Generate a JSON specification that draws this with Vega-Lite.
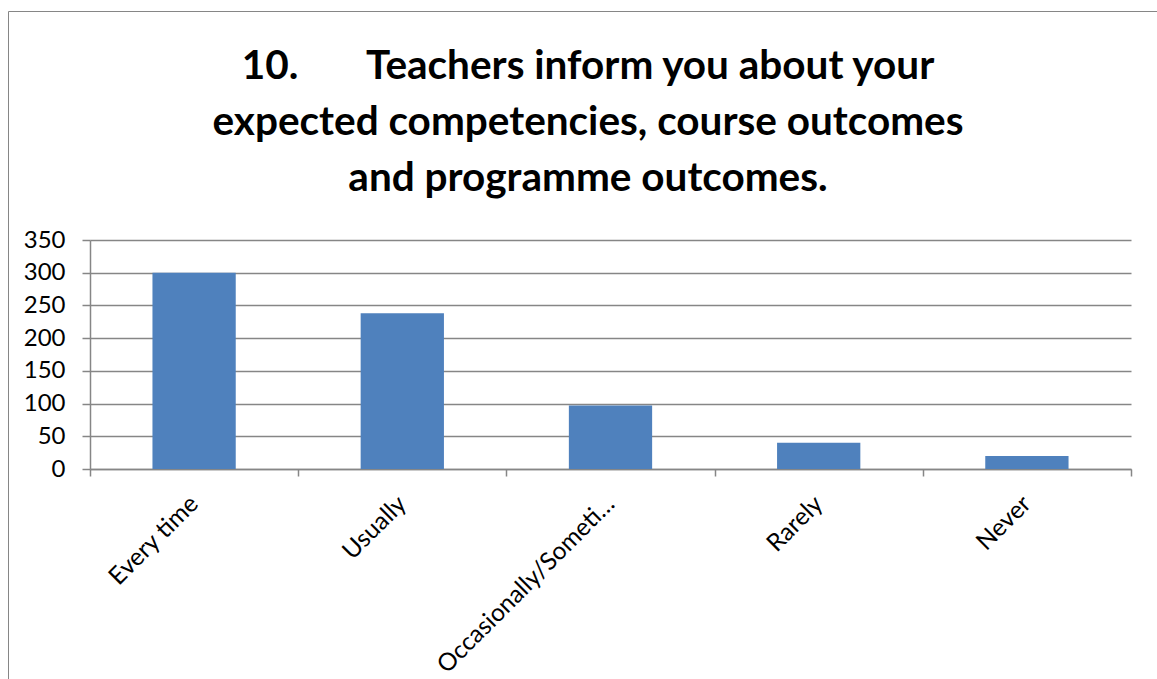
{
  "$schema": "https://vega.github.io/schema/vega-lite/v6.json",
  "autosize": "none",
  "padding": {"left": 8, "top": 11, "right": 0, "bottom": 0},
  "width": 1160,
  "height": 680,
  "background": "white",
  "title": {
    "text": ["10.\u00a0\u00a0\u00a0\u00a0\u00a0\u00a0\u00a0Teachers inform you about your", "expected competencies, course outcomes", "and programme outcomes."],
    "anchor": "middle",
    "frame": "group",
    "font": "Lato",
    "fontWeight": "bold",
    "fontSize": 40.5,
    "lineHeight": 56,
    "baseline": "top",
    "color": "black",
    "offset": 0,
    "dy": 188
  },
  "data": {
    "values": [
      {"response": "Every time", "count": 300},
      {"response": "Usually", "count": 238},
      {"response": "Occasionally/Sometimes", "count": 97},
      {"response": "Rarely", "count": 40},
      {"response": "Never", "count": 20}
    ]
  },
  "mark": {"type": "bar", "color": "#4F81BD", "width": {"band": 0.4}},
  "encoding": {
    "x": {
      "field": "response",
      "type": "nominal",
      "sort": null,
      "scale": {"range": [82, 1123], "paddingInner": 0, "paddingOuter": 0},
      "axis": {
        "title": null,
        "orient": "bottom",
        "offset": -222,
        "tickBand": "extent",
        "tickSize": 7,
        "tickColor": "#868686",
        "domainColor": "#868686",
        "domainWidth": 1.5,
        "tickWidth": 1.5,
        "labelAngle": -45,
        "labelAlign": "right",
        "labelBaseline": "middle",
        "labelPadding": 24,
        "labelFont": "Lato",
        "labelFontSize": 24.5,
        "labelColor": "black",
        "labelLimit": 252,
        "labelOverlap": false,
        "grid": false
      }
    },
    "y": {
      "field": "count",
      "type": "quantitative",
      "scale": {"domain": [0, 350], "range": [458, 229], "nice": false},
      "axis": {
        "title": null,
        "offset": -82,
        "values": [0, 50, 100, 150, 200, 250, 300, 350],
        "tickSize": 8,
        "tickColor": "#868686",
        "tickWidth": 1.5,
        "domainColor": "#868686",
        "domainWidth": 1.5,
        "gridColor": "#868686",
        "gridWidth": 1.5,
        "grid": true,
        "labelPadding": 17,
        "labelFont": "Lato",
        "labelFontSize": 24,
        "labelColor": "black"
      }
    }
  },
  "config": {
    "view": {"stroke": "#868686", "strokeWidth": 1}
  }
}
